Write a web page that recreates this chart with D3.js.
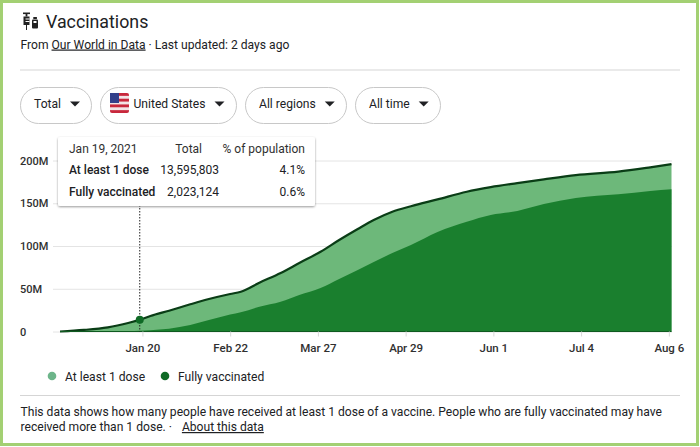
<!DOCTYPE html>
<html>
<head>
<meta charset="utf-8">
<script src="https://cdn.jsdelivr.net/npm/d3@7"></script>
<style>
html, body { margin: 0; padding: 0; background: #fff; }
svg { display: block; font-family: Roboto, sans-serif; }
</style>
</head>
<body>
<div id="chart"></div>
<script>
var dates = ["2020-12-20","2020-12-29","2021-01-07","2021-01-15","2021-01-19","2021-01-23","2021-01-30","2021-02-07","2021-02-14","2021-02-22","2021-02-26","2021-03-05","2021-03-13","2021-03-20","2021-03-28","2021-04-04","2021-04-11","2021-04-17","2021-04-24","2021-05-01","2021-05-11","2021-05-22","2021-05-31","2021-06-10","2021-06-20","2021-07-02","2021-07-18","2021-07-30","2021-08-07"];
var atLeastOne = [0, 1.8, 4.9, 10.3, 13.6, 18.1, 24.3, 31.8, 38, 43.9, 46.5, 57.1, 68.4, 80.1, 93.3, 107, 119.9, 130.4, 140.1, 146.5, 154.5, 163.5, 168.8, 173.5, 178, 183, 187, 192, 195.7];
var fullyVacc = [0, 0, 0, 0.3, 0.8, 1.6, 3.3, 7.6, 13.5, 19.9, 22.5, 29, 34.9, 42.7, 50.9, 61.4, 71.9, 81.3, 91.8, 101.2, 116.5, 128.4, 136.3, 140.9, 149, 156.1, 160.4, 164.3, 166.3];
var yTicks = [0, 50, 100, 150, 200];
var xTickDates = ["2021-01-20","2021-02-22","2021-03-27","2021-04-29","2021-06-01","2021-07-04","2021-08-06"];
var buttons = [["Total", 20, 71], ["United States", 100, 136], ["All regions", 245, 101], ["All time", 355, 85]];
var legendNames = ["At least 1 dose", "Fully vaccinated"];
var tooltipRows = [["At least 1 dose", "13,595,803", "4.1%"], ["Fully vaccinated", "2,023,124", "0.6%"]];

var parseDay = d3.timeParse("%Y-%m-%d");
var width = 700, height = 447;
var svg = d3.select("#chart").append("svg").attr("width", width).attr("height", height);

// frame
svg.append("rect").attr("x", 1.5).attr("y", 1.5).attr("width", 696).attr("height", 443)
	.attr("fill", "#fff").attr("stroke", "#a3d073").attr("stroke-width", 3);

// header
var icon = svg.append("g").attr("fill", "#222");
icon.append("rect").attr("x", 23).attr("y", 12.5).attr("width", 7).attr("height", 1.6);
icon.append("rect").attr("x", 25.6).attr("y", 14).attr("width", 1.8).attr("height", 2.5);
icon.append("rect").attr("x", 23.5).attr("y", 16.5).attr("width", 6).attr("height", 8.5);
icon.append("rect").attr("x", 25.5).attr("y", 18.5).attr("width", 4).attr("height", 1).attr("fill", "#fff");
icon.append("rect").attr("x", 25.5).attr("y", 21).attr("width", 4).attr("height", 1).attr("fill", "#fff");
icon.append("rect").attr("x", 26).attr("y", 25).attr("width", 1).attr("height", 5);
icon.append("rect").attr("x", 33.3).attr("y", 17).attr("width", 3.6).attr("height", 2);
icon.append("rect").attr("x", 32).attr("y", 19.5).attr("width", 6).attr("height", 9).attr("rx", 1);
icon.append("rect").attr("x", 33.5).attr("y", 21).attr("width", 3).attr("height", 2).attr("fill", "#fff");

svg.append("text").attr("x", 46).attr("y", 28).attr("font-size", 17.8).attr("fill", "#202124").text("Vaccinations");

var sub = svg.append("text").attr("x", 20.5).attr("y", 48.5).attr("font-size", 12.1).attr("fill", "#202124");
sub.append("tspan").text("From ");
sub.append("tspan").attr("text-decoration", "underline").text("Our World in Data");
sub.append("tspan").text(" · Last updated: 2 days ago");

svg.append("line").attr("x1", 20).attr("x2", 680).attr("y1", 70).attr("y2", 70).attr("stroke", "#d5d5d5");

// filter buttons
buttons.forEach(function(b) {
	var g = svg.append("g").attr("transform", "translate(" + b[1] + ",87)");
	g.append("rect").attr("x", 0.5).attr("y", 0.5).attr("width", b[2]).attr("height", 36).attr("rx", 18)
		.attr("fill", "#fff").attr("stroke", "#c8c8c8");
	var textX = b[0] == "United States" ? 33.5 : 14;
	var label = g.append("text").attr("x", textX).attr("y", 21).attr("font-size", 12.1).attr("fill", "#202124").text(b[0]);
	var end = textX + label.node().getComputedTextLength() + 9;
	g.append("path").attr("d", "M" + end + " 14.5h10l-5 5z").attr("fill", "#202124");
});

// flag
var flag = svg.append("g").attr("transform", "translate(110,93)");
flag.append("rect").attr("width", 19).attr("height", 20).attr("rx", 2).attr("fill", "#c8283c");
d3.range(7).forEach(function(i) {
	if (i % 2) flag.append("rect").attr("y", i * 20 / 7).attr("width", 19).attr("height", 20 / 7).attr("fill", "#f2e4e6");
});
flag.append("rect").attr("width", 9).attr("height", 10).attr("fill", "#33408a");

// chart
var rows = dates.map(function(d, i) {
	return {date: parseDay(d), one: atLeastOne[i], full: fullyVacc[i]};
});
var x = d3.scaleTime().domain(d3.extent(rows, function(d) { return d.date; })).range([60, 671.5]);
var y = d3.scaleLinear().domain([0, 200]).range([331.5, 160.5]);

var yAxis = svg.append("g").attr("transform", "translate(672,0)")
	.call(d3.axisLeft(y).tickValues(yTicks).tickSize(619).tickFormat(function(d) { return d ? d + "M" : "0"; }));
yAxis.select(".domain").remove();
yAxis.selectAll("line").attr("stroke", "#e4e4e4");
yAxis.selectAll("text").attr("x", -652).attr("text-anchor", "start").attr("font-size", 11)
	.attr("font-weight", 500).attr("fill", "#303030").attr("font-family", "Roboto");

var area = function(key) {
	return d3.area().curve(d3.curveMonotoneX).x(function(d) { return x(d.date); }).y0(y(0)).y1(function(d) { return y(d[key]); });
};
var topLine = d3.line().curve(d3.curveMonotoneX).x(function(d) { return x(d.date); }).y(function(d) { return y(d.one); });

svg.append("path").datum(rows).attr("d", area("one")).attr("fill", "#6db87a");
svg.append("path").datum(rows).attr("d", area("full")).attr("fill", "#1a7f2e");
svg.append("path").datum(rows).attr("d", topLine).attr("fill", "none").attr("stroke", "#0a3d16").attr("stroke-width", 2.2);
svg.append("line").attr("x1", 60).attr("x2", 671.5).attr("y1", y(0)).attr("y2", y(0)).attr("stroke", "#0f5a20").attr("stroke-width", 1.2);

var xAxis = svg.append("g").attr("transform", "translate(0," + y(0) + ")")
	.call(d3.axisBottom(x).tickValues(xTickDates.map(parseDay)).tickSize(5).tickPadding(7).tickFormat(d3.timeFormat("%b %-d")));
xAxis.select(".domain").remove();
xAxis.selectAll("line").attr("stroke", "#d8d8d8");
xAxis.selectAll("text").attr("font-size", 11.5).attr("font-weight", 500).attr("fill", "#303030").attr("font-family", "Roboto");

// hover marker
var hover = rows[4];
svg.append("line").attr("x1", x(hover.date)).attr("x2", x(hover.date)).attr("y1", 205).attr("y2", y(0))
	.attr("stroke", "#222").attr("stroke-dasharray", "1.5,1.5");
svg.append("circle").attr("cx", x(hover.date)).attr("cy", y(hover.one)).attr("r", 4).attr("fill", "#0f6a25");

// tooltip
var shadow = svg.append("defs").append("filter").attr("id", "tipShadow")
	.attr("x", "-5%").attr("y", "-5%").attr("width", "110%").attr("height", "115%");
shadow.append("feDropShadow").attr("dx", 0).attr("dy", 1).attr("stdDeviation", 1.2).attr("flood-color", "#000").attr("flood-opacity", 0.4);
var tip = svg.append("g").attr("transform", "translate(58,137)");
tip.append("rect").attr("width", 257).attr("height", 69).attr("rx", 2).attr("fill", "#fff").attr("filter", "url(#tipShadow)");
tip.append("text").attr("x", 11).attr("y", 16).attr("font-size", 12).attr("fill", "#303030").text("Jan 19, 2021");
tip.append("text").attr("x", 144).attr("y", 16).attr("font-size", 12).attr("text-anchor", "end").attr("fill", "#303030").text("Total");
tip.append("text").attr("x", 247).attr("y", 16).attr("font-size", 12).attr("text-anchor", "end").attr("fill", "#303030").text("% of population");
tooltipRows.forEach(function(r, i) {
	var rowY = 37 + i * 21.5;
	tip.append("text").attr("x", 11).attr("y", rowY).attr("font-size", 12).attr("font-weight", 500).attr("fill", "#202124").text(r[0]);
	tip.append("text").attr("x", 161).attr("y", rowY).attr("font-size", 12).attr("text-anchor", "end").attr("fill", "#202124").text(r[1]);
	tip.append("text").attr("x", 247).attr("y", rowY).attr("font-size", 12).attr("text-anchor", "end").attr("fill", "#202124").text(r[2]);
});

// legend
var legendX = [52, 165], legendColors = ["#6db58a", "#0f6a25"];
legendNames.forEach(function(name, i) {
	svg.append("circle").attr("cx", legendX[i]).attr("cy", 376).attr("r", 4.3).attr("fill", legendColors[i]);
	svg.append("text").attr("x", legendX[i] + 13).attr("y", 380.5).attr("font-size", 12.1).attr("fill", "#202124").text(name);
});

svg.append("line").attr("x1", 20).attr("x2", 680).attr("y1", 395.5).attr("y2", 395.5).attr("stroke", "#d5d5d5");

// footer
svg.append("text").attr("x", 20.5).attr("y", 416).attr("font-size", 12.1).attr("fill", "#202124")
	.text("This data shows how many people have received at least 1 dose of a vaccine. People who are fully vaccinated may have");
var foot = svg.append("text").attr("x", 20.5).attr("y", 431).attr("font-size", 12.1).attr("fill", "#202124");
foot.append("tspan").text("received more than 1 dose.  ·  ");
foot.append("tspan").attr("dx", 7).attr("text-decoration", "underline").text("About this data");
</script>
</body>
</html>
